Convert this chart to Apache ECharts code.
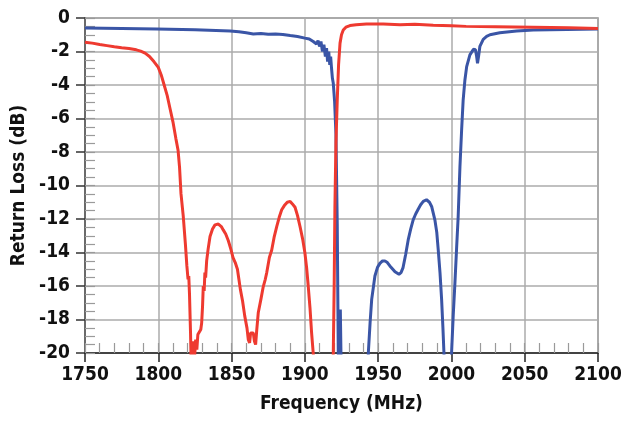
<!DOCTYPE html>
<html>
<head>
<meta charset="utf-8">
<script src="https://cdn.jsdelivr.net/npm/echarts@6/dist/echarts.min.js"></script>
<style>
html,body{margin:0;padding:0;background:#fff;}
#chart{width:621px;height:423px;}
</style>
</head>
<body>
<div id="chart"></div>
<script>
const xTicks = [1750, 1800, 1850, 1900, 1950, 2000, 2050, 2100];
const yTicks = [0, -2, -4, -6, -8, -10, -12, -14, -16, -18, -20];

const redFreq = [1750,1755,1760,1765,1770,1775,1780,1785,1788,1791,1794,1797,1800,1802,1804,1806,1808,1810,1812,1813.5,1814.5,1815.5,1817,1818.5,1819.5,1820.3,1820.8,1821.3,1822,1822.5,1823.5,1824,1824.6,1825.5,1826.3,1827,1828,1829,1829.6,1830.2,1830.7,1831.3,1831.8,1832.3,1833,1834,1835.3,1837,1838.7,1841,1843,1844.3,1846,1847.8,1849.5,1851,1852.5,1854,1855,1856,1857.5,1859,1860.5,1861.4,1862.3,1863,1864,1864.8,1865.6,1866.4,1867.2,1868.2,1870,1871.6,1873,1874,1875.8,1877.4,1879,1880.8,1882.5,1884.2,1886,1888,1890,1891.5,1893.3,1895,1896.7,1898.5,1900,1901.2,1902.3,1903.5,1904.6,1905.7,1907,1912,1917,1919.4,1920,1920.5,1921.2,1922.1,1923,1924,1925,1926.2,1928,1930.8,1935,1942,1953.5,1965,1975,1987.6,2000,2010,2030,2055.7,2080,2100];
const redLoss = [-1.45,-1.5,-1.58,-1.65,-1.72,-1.78,-1.82,-1.9,-1.98,-2.1,-2.3,-2.6,-2.95,-3.4,-4.0,-4.6,-5.4,-6.2,-7.2,-7.9,-8.9,-10.5,-11.8,-13.5,-14.8,-15.6,-15.4,-16.5,-18.8,-21,-20,-19.3,-20.5,-19.2,-19.8,-18.9,-18.8,-18.6,-18.2,-17.2,-16,-16.3,-15.2,-15.5,-14.5,-13.8,-13.05,-12.6,-12.35,-12.3,-12.45,-12.65,-12.9,-13.3,-13.8,-14.3,-14.6,-15.0,-15.6,-16.2,-16.9,-17.8,-18.5,-19.2,-19.4,-18.8,-18.9,-18.8,-19.3,-19.5,-18.6,-17.6,-16.8,-16.05,-15.6,-15.2,-14.3,-13.85,-13.1,-12.45,-11.9,-11.45,-11.2,-11.0,-10.95,-11.1,-11.3,-11.8,-12.45,-13.2,-14.0,-14.9,-16.0,-17.3,-18.8,-20,-22,-26,-24,-20,-16,-11.3,-7.5,-4.9,-2.8,-1.5,-1.0,-0.72,-0.55,-0.45,-0.4,-0.36,-0.36,-0.4,-0.38,-0.43,-0.46,-0.5,-0.52,-0.55,-0.58,-0.62];

const blueFreq = [1750,1775,1799,1825,1849,1855,1860,1864.8,1870,1875,1880,1885,1890,1895,1900,1903,1905.7,1907,1908,1909,1910,1911,1912,1913,1914,1914.8,1915.5,1916.3,1917,1917.6,1918.2,1918.8,1919.4,1920.3,1921.2,1922.1,1922.8,1923.4,1924.2,1924.8,1926,1935,1942,1943.3,1944.5,1945.6,1947.8,1949.5,1951.2,1953,1954.6,1956.3,1958,1960,1961.5,1964.2,1965.6,1967,1968.8,1970.5,1972.2,1973.9,1975.6,1977.4,1979,1980.8,1983,1985,1986.5,1988.7,1990,1991,1992.2,1993.3,1994.2,1994.9,1996,1998,2000.1,2001.2,2002.4,2003.5,2004.6,2005.8,2007,2008,2009.2,2010.4,2012.6,2015,2016.4,2017.2,2017.8,2018.5,2019.4,2021.7,2024,2026.3,2033,2044.5,2055.8,2078.6,2100];
const blueLoss = [-0.6,-0.62,-0.65,-0.7,-0.78,-0.82,-0.88,-0.95,-0.92,-0.97,-0.95,-0.98,-1.05,-1.1,-1.2,-1.25,-1.4,-1.3,-1.55,-1.35,-1.7,-1.4,-2.0,-1.6,-2.3,-1.8,-2.6,-2.0,-2.8,-2.3,-3.0,-3.6,-3.9,-5.0,-6.9,-12.3,-20,-21,-17.4,-21,-25,-28,-24,-20,-18.2,-16.8,-15.4,-14.9,-14.65,-14.5,-14.5,-14.6,-14.8,-15.0,-15.15,-15.3,-15.2,-14.9,-14.1,-13.25,-12.6,-12.05,-11.7,-11.4,-11.15,-10.95,-10.85,-11.0,-11.25,-12.05,-12.8,-13.85,-15.2,-16.8,-18.5,-20,-23,-24,-20,-17.8,-15.8,-13.8,-11.85,-8.9,-6.6,-4.9,-3.7,-2.9,-2.2,-1.87,-1.9,-2.3,-2.7,-2.3,-1.7,-1.27,-1.1,-1.0,-0.88,-0.78,-0.72,-0.68,-0.66];

const FONT = "'DejaVu Sans Condensed', 'Liberation Sans Narrow', sans-serif";
const pairs = (xs, ys) => xs.map((x, i) => [x, ys[i]]);
const plain = v => String(v);
const PLOT_H = 423 - 18 - 70;

const chart = echarts.init(document.getElementById('chart'));
chart.setOption({
  animation: false,
  backgroundColor: '#ffffff',
  grid: {left: 85, right: 23, top: 18, bottom: 70, containLabel: false, outerBoundsMode: 'none',
         show: true, borderColor: '#8a8a8a', borderWidth: 1.5},
  xAxis: [{
    type: 'value', min: xTicks[0], max: xTicks[xTicks.length - 1], interval: 50, position: 'bottom',
    name: 'Frequency (MHz)', nameLocation: 'middle', nameGap: 42,
    nameTextStyle: {fontFamily: FONT, fontWeight: 'bold', fontSize: 19, color: '#111'},
    axisLine: {show: true, onZero: false, lineStyle: {color: '#222', width: 1.5}},
    axisTick: {show: true, inside: false, length: 9, lineStyle: {color: '#222', width: 1.5}},
    axisLabel: {fontFamily: FONT, fontWeight: 'bold', fontSize: 19, color: '#111', margin: 13, formatter: plain},
    splitLine: {show: true, lineStyle: {color: '#ababab', width: 1.5}}
  }, {
    type: 'value', min: xTicks[0], max: xTicks[xTicks.length - 1], interval: 10,
    position: 'top', offset: -PLOT_H,
    axisLine: {show: false}, axisLabel: {show: false}, splitLine: {show: false},
    axisTick: {show: true, inside: false, length: 10, lineStyle: {color: '#9a9a9a', width: 1.2}}
  }],
  yAxis: [{
    type: 'value', min: yTicks[yTicks.length - 1], max: yTicks[0], interval: 2, position: 'left',
    name: 'Return Loss (dB)', nameLocation: 'middle', nameGap: 55,
    nameTextStyle: {fontFamily: FONT, fontWeight: 'bold', fontSize: 19, color: '#111'},
    axisLine: {show: true, onZero: false, lineStyle: {color: '#555', width: 1.5}},
    axisTick: {show: true, inside: false, length: 9, lineStyle: {color: '#333', width: 1.5}},
    axisLabel: {fontFamily: FONT, fontWeight: 'bold', fontSize: 19, color: '#111', margin: 15, formatter: plain},
    splitLine: {show: true, lineStyle: {color: '#ababab', width: 1.5}}
  }, {
    type: 'value', min: yTicks[yTicks.length - 1], max: yTicks[0], interval: 0.5, position: 'left',
    axisLine: {show: false}, axisLabel: {show: false}, splitLine: {show: false},
    axisTick: {show: true, inside: true, length: 10, lineStyle: {color: '#9a9a9a', width: 1.2}}
  }],
  series: [{
    name: 'Blue', type: 'line', xAxisIndex: 0, yAxisIndex: 0, showSymbol: false, clip: true,
    data: pairs(blueFreq, blueLoss),
    lineStyle: {color: '#3a55a6', width: 3}, itemStyle: {color: '#3a55a6'}
  }, {
    name: 'Red', type: 'line', xAxisIndex: 0, yAxisIndex: 0, showSymbol: false, clip: true,
    data: pairs(redFreq, redLoss),
    lineStyle: {color: '#ee3a30', width: 3}, itemStyle: {color: '#ee3a30'}
  }]
});
</script>
</body>
</html>
